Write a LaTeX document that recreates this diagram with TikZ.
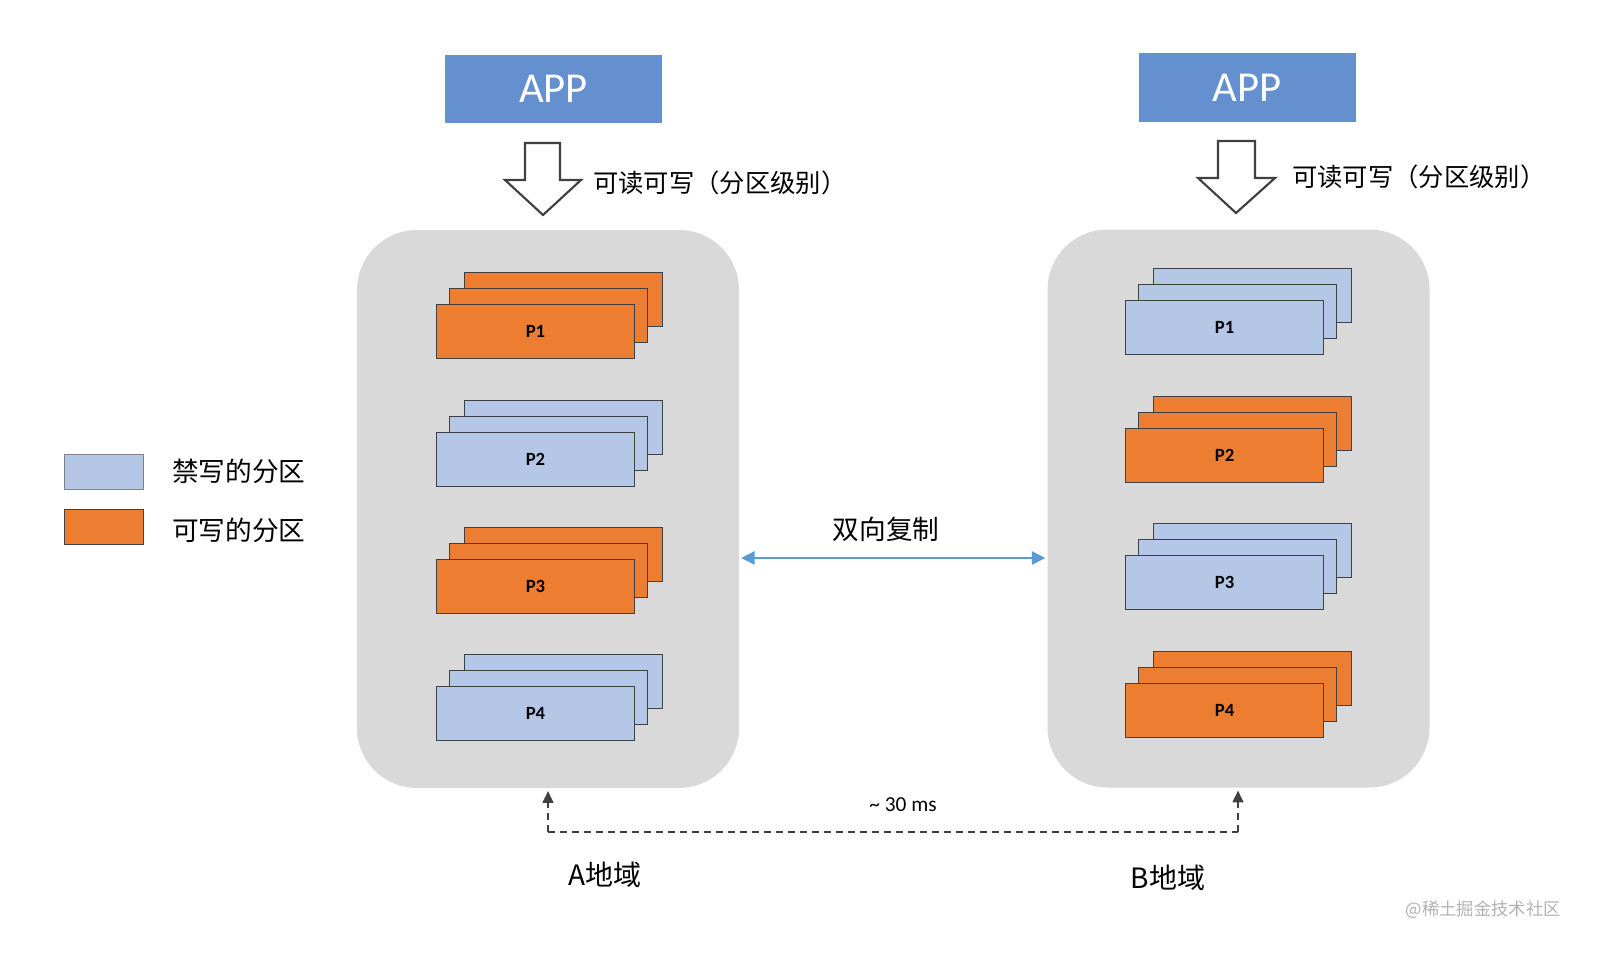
\documentclass[tikz,border=0pt]{standalone}
\usepackage{fontspec}
\setmainfont{Carlito}
\newfontfamily\cjk{Noto Sans CJK SC}
\usetikzlibrary{arrows.meta}
\definecolor{appblue}{HTML}{6490CF}
\definecolor{porange}{HTML}{ED7D31}
\definecolor{pblue}{HTML}{B4C7E7}
\definecolor{pborder}{HTML}{404040}
\definecolor{contgray}{HTML}{D9D9D9}
\definecolor{repblue}{HTML}{5B9BD5}
\definecolor{dashgray}{HTML}{404040}
\tikzset{
  appbox/.style={fill=appblue, text=white, minimum width=217*0.75pt, minimum height=68*0.75pt, font=\fontsize{32pt}{36pt}\selectfont, inner sep=0pt},
  container/.style={fill=contgray, rounded corners=60*0.75pt, minimum width=382*0.75pt, minimum height=558*0.75pt, inner sep=0pt},
  pbox/.style={draw=pborder, line width=0.75pt},
  pfront/.style={pbox, minimum width=198*0.75pt, minimum height=54*0.75pt, inner sep=0pt, anchor=north west, font=\fontsize{14pt}{16pt}\selectfont\bfseries},
  hollow/.style={draw=pborder, line width=1.6pt, fill=white, line join=miter},
  cjklabel/.style={font=\cjk\fontsize{19pt}{22pt}\selectfont, inner sep=0pt},
  legtext/.style={font=\cjk\fontsize{20pt}{24pt}\selectfont, inner sep=0pt, anchor=west},
  legbox/.style={draw=gray, line width=0.75pt, minimum width=79*0.75pt, minimum height=35*0.75pt, inner sep=0pt},
  rep/.style={draw=repblue, line width=1.1pt, {Triangle[length=10pt,width=10pt]}-{Triangle[length=10pt,width=10pt]}},
  dashline/.style={draw=dashgray, line width=1.9pt, dash pattern=on 5.5pt off 3.5pt},
  region/.style={font=\cjk\fontsize{21pt}{24pt}\selectfont, inner sep=0pt},
}
\newcommand\pstack[5]{%
  \draw[pbox,fill=#4] (#2+28,#3-32) rectangle ++(198,54);%
  \draw[pbox,fill=#4] (#2+13,#3-16) rectangle ++(198,54);%
  \node[pfront,fill=#4] (#1) at (#2,#3) {#5};%
}
\begin{document}
\begin{tikzpicture}[x=0.75pt,y=-0.75pt]
\useasboundingbox (0,0) rectangle (1619,956);
% APP boxes
\node[appbox] (appA) at (553.5,89) {APP};
\node[appbox] (appB) at (1247,87.5) {APP};
% hollow arrows
\draw[hollow] (525,143) -- (560,143) -- (560,180) -- (581,180) -- (543,215) -- (505,180) -- (525,180) -- cycle;
\draw[hollow] (1218,141) -- (1255,141) -- (1255,178) -- (1275,178) -- (1236,213) -- (1198,178) -- (1218,178) -- cycle;
\node[cjklabel, anchor=west] (rwA) at (593,183) {可读可写（分区级别）};
\node[cjklabel, anchor=west] (rwB) at (1292,177) {可读可写（分区级别）};
% containers
\node[container] (A) at (548,509) {};
\node[container] (B) at (1238.5,508.5) {};
% stacks
\pstack{a1}{436}{304}{porange}{P1}
\pstack{a2}{436}{432}{pblue}{P2}
\pstack{a3}{436}{559}{porange}{P3}
\pstack{a4}{436}{686}{pblue}{P4}
\pstack{b1}{1125}{300}{pblue}{P1}
\pstack{b2}{1125}{428}{porange}{P2}
\pstack{b3}{1125}{555}{pblue}{P3}
\pstack{b4}{1125}{683}{porange}{P4}
% legend
\node[legbox, fill=pblue] (lg1) at (103.5,471.5) {};
\node[legbox, fill=porange, draw=pborder] (lg2) at (103.5,527) {};
\node[legtext] (lt1) at (172,471) {禁写的分区};
\node[legtext] (lt2) at (172,530) {可写的分区};
% replication
\draw[rep] ([shift={(2,49)}]A.east) -- ([shift={(-2,49.5)}]B.west);
\node[legtext, anchor=center] (replab) at (886,529) {双向复制};
% latency
\coordinate (d1) at (548,832);
\coordinate (d2) at (1238,832);
\draw[dashline] (d1) -- (d2);
\draw[dashline, -{Triangle[length=9pt,width=8pt]}] (d1) -- ([yshift=-2pt]d1 |- A.south);
\draw[dashline, -{Triangle[length=9pt,width=8pt]}] (d2) -- ([yshift=-2pt]d2 |- B.south);
\node[font=\fontsize{16pt}{18pt}\selectfont, inner sep=0pt] (lat) at (903,805) {\textasciitilde{} 30 ms};
\node[region] (rA) at (605,875) {A地域};
\node[region] (rB) at (1168,878) {B地域};
% watermark
\node[font=\cjk\fontsize{13pt}{15pt}\selectfont, text=gray!60, inner sep=0pt, anchor=east] (wm) at (1561,910) {@稀土掘金技术社区};
\end{tikzpicture}
\end{document}
